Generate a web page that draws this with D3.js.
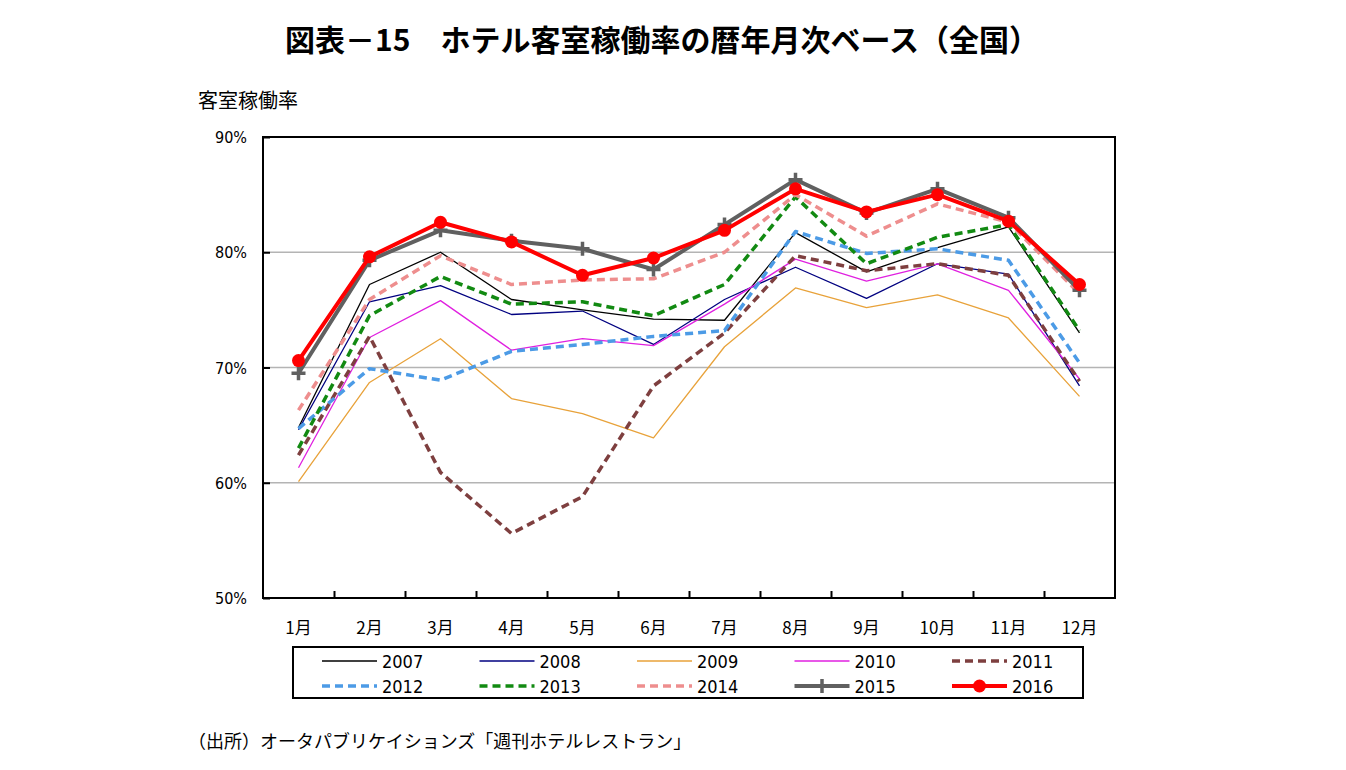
<!DOCTYPE html>
<html>
<head>
<meta charset="utf-8">
<script src="https://cdn.jsdelivr.net/npm/d3@7"></script>
<style>
  body { margin: 0; background: #fff; }
  svg { display: block; }
  text { font-family: "Noto Sans CJK JP", sans-serif; fill: #000; }
  .num { font-family: "Liberation Sans Narrow", "DejaVu Sans Condensed", "Liberation Sans", sans-serif; }
</style>
</head>
<body>
<main></main>
<script>
var width = 1346;
var height = 770;

var months = ['1月', '2月', '3月', '4月', '5月', '6月', '7月', '8月', '9月', '10月', '11月', '12月'];
var yTicks = [50, 60, 70, 80, 90];
var years = ['2007', '2008', '2009', '2010', '2011', '2012', '2013', '2014', '2015', '2016'];

var v2007 = [64.8, 77.2, 80.0, 75.9, 75.0, 74.2, 74.1, 81.7, 78.3, 80.4, 82.2, 73.0];
var v2008 = [64.6, 75.7, 77.1, 74.6, 74.9, 72.0, 75.9, 78.7, 76.0, 79.0, 78.1, 68.4];
var v2009 = [60.1, 68.7, 72.5, 67.3, 66.0, 63.9, 71.8, 76.9, 75.2, 76.3, 74.3, 67.5];
var v2010 = [61.3, 72.6, 75.8, 71.5, 72.5, 71.9, 75.5, 79.4, 77.5, 79.0, 76.7, 69.0];
var v2011 = [62.4, 72.7, 60.9, 55.6, 58.8, 68.4, 73.0, 79.7, 78.4, 79.0, 78.0, 68.8];
var v2012 = [64.7, 69.9, 68.9, 71.4, 72.0, 72.7, 73.2, 81.8, 79.9, 80.3, 79.3, 70.4];
var v2013 = [63.0, 74.5, 77.9, 75.5, 75.7, 74.5, 77.2, 84.8, 79.0, 81.3, 82.4, 73.2];
var v2014 = [66.3, 75.9, 79.7, 77.2, 77.6, 77.7, 80.0, 85.0, 81.4, 84.2, 82.6, 76.4];
var v2015 = [69.5, 79.3, 81.9, 81.0, 80.3, 78.5, 82.4, 86.3, 83.4, 85.5, 83.0, 76.7];
var v2016 = [70.6, 79.6, 82.6, 80.9, 78.0, 79.5, 81.9, 85.5, 83.5, 85.0, 82.7, 77.2];

var allValues = [v2007, v2008, v2009, v2010, v2011, v2012, v2013, v2014, v2015, v2016];

// line look per year
var styles = [
  { color: '#000000', w: 1.3, dash: null, marker: null },
  { color: '#000080', w: 1.3, dash: null, marker: null },
  { color: '#E8A23A', w: 1.3, dash: null, marker: null },
  { color: '#E020E0', w: 1.3, dash: null, marker: null },
  { color: '#7E3F3F', w: 3.5, dash: '8,5', marker: null },
  { color: '#4C9BE6', w: 3.5, dash: '8,5', marker: null },
  { color: '#128A12', w: 3.5, dash: '8,5', marker: null },
  { color: '#EE8E8E', w: 3.5, dash: '8,5', marker: null },
  { color: '#606060', w: 4, dash: null, marker: 'plus' },
  { color: '#FF0000', w: 4, dash: null, marker: 'circle' }
];

var pLeft = 263, pRight = 1115, pTop = 137, pBottom = 598;

var svg = d3.select('main').append('svg')
  .attr('width', width)
  .attr('height', height);

var x = d3.scalePoint().domain(months).range([pLeft, pRight]).padding(0.5);
var y = d3.scaleLinear().domain([50, 90]).range([pBottom, pTop]);

// title
svg.append('text')
  .attr('x', 662)
  .attr('y', 51)
  .attr('text-anchor', 'middle')
  .style('font-size', '30px')
  .style('font-weight', 'bold')
  .text('図表－15　ホテル客室稼働率の暦年月次ベース（全国）');

svg.append('text')
  .attr('x', 198)
  .attr('y', 108)
  .style('font-size', '20px')
  .text('客室稼働率');

// gridlines
svg.append('g')
  .selectAll('line')
  .data(yTicks.slice(1, -1))
  .enter().append('line')
  .attr('x1', pLeft).attr('x2', pRight)
  .attr('y1', function(d) { return y(d); })
  .attr('y2', function(d) { return y(d); })
  .attr('stroke', '#b4b4b4')
  .attr('stroke-width', 1.5);

// y axis
var yAxis = svg.append('g')
  .attr('transform', 'translate(' + pLeft + ',0)')
  .call(d3.axisRight(y).tickValues(yTicks).tickSize(7).tickFormat(''));
yAxis.select('.domain').remove();
yAxis.selectAll('line').attr('stroke', '#000').attr('stroke-width', 2);

svg.append('g')
  .selectAll('text')
  .data(yTicks)
  .enter().append('text')
  .attr('class', 'num')
  .attr('x', 247)
  .attr('y', function(d) { return y(d) + 6; })
  .attr('text-anchor', 'end')
  .style('font-size', '16px')
  .text(function(d) { return d + '%'; });

// x axis ticks at band edges, pointing up
var xAxis = svg.append('g')
  .attr('transform', 'translate(0,' + pBottom + ')')
  .call(d3.axisTop(d3.scaleLinear().domain([0, 12]).range([pLeft, pRight]))
    .tickValues(d3.range(1, 12)).tickSize(7).tickFormat(''));
xAxis.select('.domain').remove();
xAxis.selectAll('line').attr('stroke', '#000').attr('stroke-width', 2);

svg.append('g')
  .selectAll('text')
  .data(months)
  .enter().append('text')
  .attr('x', function(d) { return x(d); })
  .attr('y', 634)
  .attr('text-anchor', 'middle')
  .style('font-size', '17px')
  .text(function(d) { return d; });

// series
var line = d3.line()
  .x(function(d, i) { return x(months[i]); })
  .y(function(d) { return y(d); });

allValues.forEach(function(vals, k) {
  var s = styles[k];
  svg.append('path')
    .datum(vals)
    .attr('d', line)
    .attr('fill', 'none')
    .attr('stroke', s.color)
    .attr('stroke-width', s.w)
    .attr('stroke-dasharray', s.dash)
    .attr('stroke-linejoin', 'round');
  if (s.marker === 'plus') {
    svg.append('g').selectAll('path')
      .data(vals)
      .enter().append('path')
      .attr('d', function(d, i) {
        var cx = x(months[i]), cy = y(d);
        return 'M' + (cx - 7) + ',' + cy + 'H' + (cx + 7) + 'M' + cx + ',' + (cy - 7) + 'V' + (cy + 7);
      })
      .attr('stroke', s.color)
      .attr('stroke-width', 3.5);
  }
  if (s.marker === 'circle') {
    svg.append('g').selectAll('circle')
      .data(vals)
      .enter().append('circle')
      .attr('cx', function(d, i) { return x(months[i]); })
      .attr('cy', function(d) { return y(d); })
      .attr('r', 6.5)
      .attr('fill', s.color);
  }
});

// frame
svg.append('rect')
  .attr('x', pLeft).attr('y', pTop)
  .attr('width', pRight - pLeft).attr('height', pBottom - pTop)
  .attr('fill', 'none')
  .attr('stroke', '#000')
  .attr('stroke-width', 2);

// legend
var legend = svg.append('g');
legend.append('rect')
  .attr('x', 293).attr('y', 647)
  .attr('width', 790).attr('height', 51)
  .attr('fill', 'none')
  .attr('stroke', '#000')
  .attr('stroke-width', 2);

years.forEach(function(yr, k) {
  var s = styles[k];
  var col = k % 5, row = Math.floor(k / 5);
  var lx = 322 + col * 157.5;
  var ly = 661 + row * 25;
  legend.append('line')
    .attr('x1', lx).attr('x2', lx + 55)
    .attr('y1', ly).attr('y2', ly)
    .attr('stroke', s.color)
    .attr('stroke-width', s.w)
    .attr('stroke-dasharray', s.dash);
  if (s.marker === 'plus') {
    legend.append('path')
      .attr('d', 'M' + (lx + 27.5) + ',' + (ly - 7) + 'V' + (ly + 7))
      .attr('stroke', s.color).attr('stroke-width', 3.5);
  }
  if (s.marker === 'circle') {
    legend.append('circle')
      .attr('cx', lx + 27.5).attr('cy', ly).attr('r', 6.5)
      .attr('fill', s.color);
  }
  legend.append('text')
    .attr('class', 'num')
    .attr('x', lx + 60)
    .attr('y', ly + 6.5)
    .style('font-size', '18px')
    .text(yr);
});

svg.append('text')
  .attr('x', 188)
  .attr('y', 748)
  .style('font-size', '18px')
  .text('（出所）オータパブリケイションズ「週刊ホテルレストラン」');
</script>
</body>
</html>
